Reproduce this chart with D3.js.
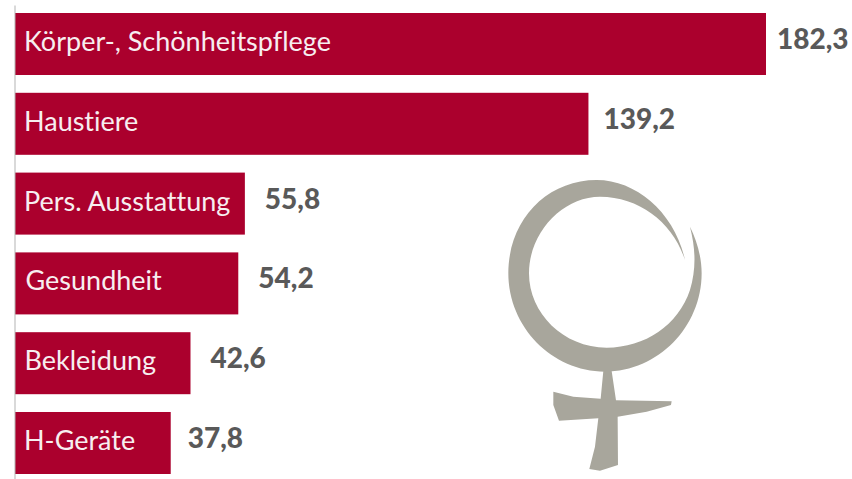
<!DOCTYPE html>
<html>
<head>
<meta charset="utf-8">
<script src="https://cdn.jsdelivr.net/npm/d3@7"></script>
<style>
  html, body { margin: 0; padding: 0; background: #fff; overflow: hidden; }
  svg { display: block; }
  text { font-family: Lato, "Open Sans", sans-serif; font-variant-ligatures: none; }
</style>
</head>
<body>
<div id="chart"></div>
<script>
const categories = ['Körper-, Schönheitspflege', 'Haustiere', 'Pers. Ausstattung', 'Gesundheit', 'Bekleidung', 'H-Geräte'];
const values = [182.3, 139.2, 55.8, 54.2, 42.6, 37.8];

const width = 852;
const height = 479;

// the labels in the original were placed by hand, so the gaps are uneven
const valueGap = [11, 15, 20, 20, 20, 17];
const labelLeft = [24, 24, 24, 25.5, 24.5, 24];

const svg = d3.select('#chart').append('svg')
  .attr('width', width)
  .attr('height', height);

const x = d3.scaleLinear()
  .domain([0, 182.3])
  .range([15, 766]);

const y = d3.scaleBand()
  .domain(categories)
  .range([13, 474])
  .paddingInner(0.223)
  .paddingOuter(0);

const comma = d3.formatLocale({ decimal: ',', thousands: '.', grouping: [3], currency: ['', ' €'] }).format('.1f');

// Female symbol
const symbol = svg.append('g')
  .attr('transform', 'translate(490,170) scale(0.3333)')
  .attr('fill', '#a8a69c');

symbol.append('path')
  .attr('d', 'M585 270 C555 130 440 30 320 30 C170 30 55 150 55 310 C55 470 185 605 345 605 ' +
    'C505 605 635 470 635 310 C635 260 620 210 600 170 C618 240 618 300 600 360 ' +
    'C565 465 465 533 350 533 C220 533 117 430 117 310 C117 185 220 80 330 80 ' +
    'C450 80 550 160 585 270 Z');

symbol.append('path')
  .attr('d', 'M340 603 L365 603 L372 650 L378 691 L545 694 L543 705 L470 725 L383 740 ' +
    'L384 885 L330 902 L298 897 L315 830 L325 745 L207 752 L190 705 L190 665 ' +
    'L250 680 L332 686 Z');

// Bars
svg.selectAll('#bar').data(categories)
  .join('rect')
  .attr('id', 'bar')
  .attr('x', x(0))
  .attr('y', (d) => y(d))
  .attr('width', (d, i) => x(values[i]) - x(0))
  .attr('height', y.bandwidth())
  .attr('fill', '#ab002d');

// Axis line
const axis = svg.append('g')
  .attr('transform', 'translate(14.5,0)')
  .call(d3.axisLeft(d3.scaleLinear().domain([0, 1]).range([5, 479])).ticks(0).tickSize(0));

axis.select('.domain')
  .attr('stroke', '#b3b3b3')
  .attr('stroke-width', 1);

// Category labels
svg.selectAll('#label').data(categories)
  .join('text')
  .attr('id', 'label')
  .attr('x', (d, i) => labelLeft[i])
  .attr('y', (d) => y(d) + 38)
  .attr('fill', '#f7eef0')
  .attr('font-size', 27)
  .text((d) => d);

// Value labels
svg.selectAll('#value').data(values)
  .join('text')
  .attr('id', 'value')
  .attr('x', (d, i) => x(d) + valueGap[i])
  .attr('y', (d, i) => y(categories[i]) + 36)
  .attr('fill', '#595959')
  .attr('font-size', 28)
  .attr('font-weight', 900)
  .text((d) => comma(d));
</script>
</body>
</html>
